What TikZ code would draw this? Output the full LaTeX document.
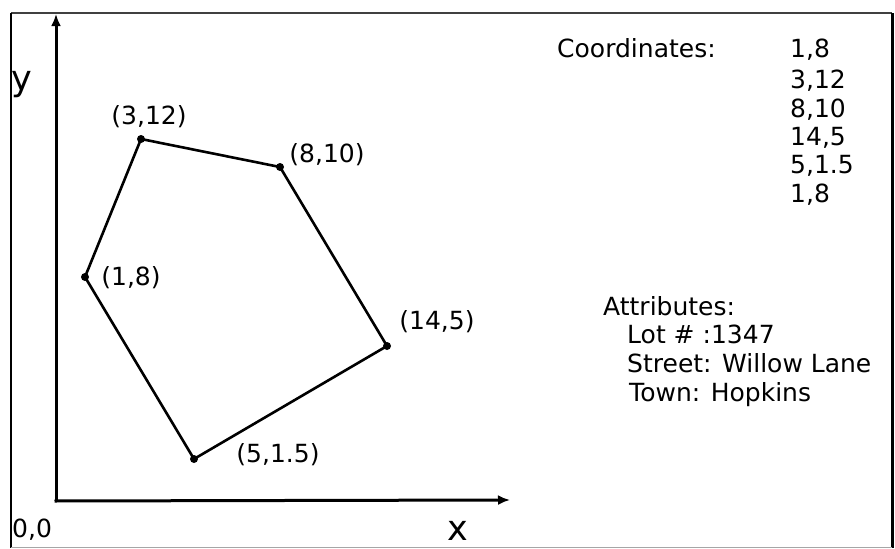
\documentclass[tikz,border=0pt]{standalone}
\usepackage{fontspec}
\setmainfont{DejaVu Sans}
\usetikzlibrary{arrows.meta}
\tikzset{
  txt/.style={inner sep=0pt, font=\fontsize{25}{29}\selectfont},
  axlbl/.style={inner sep=0pt, font=\fontsize{35}{40}\selectfont},
  vdot/.style={circle, fill=black, inner sep=0pt, minimum size=8pt},
  edge/.style={line width=2.6pt, line join=round},
  axis/.style={line width=3pt, -{Latex[length=12pt,width=10pt]}},
}
\begin{document}
\begin{tikzpicture}[x=1pt,y=-1pt]
\useasboundingbox (0,0) rectangle (895,549);
% frame
\draw[line width=1.8pt, black!75] (11,13) -- (892,13);
\draw[line width=1.8pt, black] (11,13) -- (11,547.5);
\draw[line width=3pt, black] (892,13) -- (892,547.5);
\draw[line width=1.8pt, black!35] (11,547.5) -- (892,547.5);
% axes
\coordinate (o) at (56,501);
\coordinate (xe) at (510,500);
\coordinate (ye) at (56,14);
\draw[axis] (o) -- (ye);
\draw[axis] ([xshift=-1.5pt]o) -- (xe);
\node[axlbl, anchor=base] (ylbl) at (22,90) {y};
\node[axlbl, anchor=base] (xlbl) at (458,540) {x};
\node[txt, anchor=base west] (orig) at (12,537) {0,0};
% vertices
\node[vdot] (p1) at (85,277) {};
\node[vdot] (p2) at (141,139) {};
\node[vdot] (p3) at (280,167) {};
\node[vdot] (p4) at (387,346) {};
\node[vdot] (p5) at (194,459) {};
\draw[edge] (p1.center) -- (p2.center) -- (p3.center) -- (p4.center) -- (p5.center) -- cycle;
% vertex labels
\node[txt, anchor=base] (l2) at (149,124) {(3,12)};
\node[txt, anchor=base] (l3) at (327,162) {(8,10)};
\node[txt, anchor=base] (l1) at (131,285) {(1,8)};
\node[txt, anchor=base] (l4) at (437,329) {(14,5)};
\node[txt, anchor=base] (l5) at (278,462) {(5,1.5)};
% coordinates list
\node[txt, anchor=base west] (ch) at (557,57) {Coordinates:};
\node[txt, anchor=base west] (c1) at (790,57) {1,8};
\node[txt, anchor=base west] (c2) at (790,88) {3,12};
\node[txt, anchor=base west] (c3) at (790,117) {8,10};
\node[txt, anchor=base west] (c4) at (790,145) {14,5};
\node[txt, anchor=base west] (c5) at (790,173) {5,1.5};
\node[txt, anchor=base west] (c6) at (790,202) {1,8};
% attributes
\node[txt, anchor=base west] (ah) at (603,315) {Attributes:};
\node[txt, anchor=base west] (a1) at (627,343) {Lot \# :1347};
\node[txt, anchor=base west] (a2) at (627,372) {Street: Willow Lane};
\node[txt, anchor=base west] (a3) at (629,401) {Town: Hopkins};
\end{tikzpicture}
\end{document}
